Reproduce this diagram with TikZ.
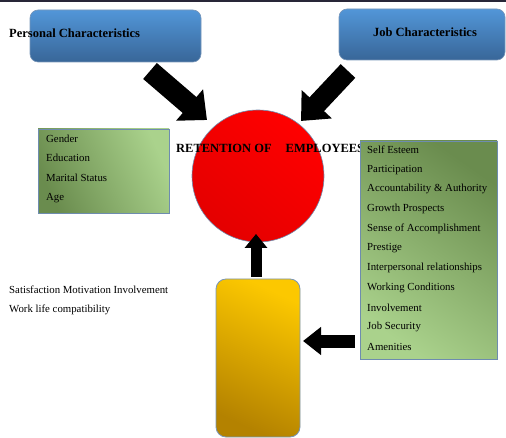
\documentclass[tikz,border=0pt]{standalone}
\usepackage{fontspec}
\setmainfont{Liberation Serif}
\usetikzlibrary{arrows.meta}

\definecolor{barnavy}{RGB}{40,38,56}
\definecolor{bluetop}{RGB}{82,150,216}
\definecolor{bluebot}{RGB}{56,102,152}
\definecolor{blueedge}{RGB}{120,150,185}
\definecolor{greenlight}{RGB}{170,210,140}
\definecolor{greendark}{RGB}{106,140,78}
\definecolor{greenedge}{RGB}{110,140,175}
\definecolor{redlight}{RGB}{255,0,0}
\definecolor{reddark}{RGB}{228,0,0}
\definecolor{yellowlight}{RGB}{252,200,0}
\definecolor{yellowdark}{RGB}{180,130,0}

\tikzset{
  headbox/.style={draw=blueedge, line width=0.6pt, rounded corners=8pt,
    top color=bluetop, bottom color=bluebot, inner sep=0pt},
  greenbox/.style={draw=greenedge, line width=0.8pt, inner sep=0pt},
  item/.style={anchor=west, font=\fontsize{10.8}{13}\selectfont, inner sep=0pt},
  title/.style={font=\fontsize{12.5}{15}\selectfont\bfseries, inner sep=0pt},
  blockarrow/.style={line width=#1, black, line cap=butt},
  bighead/.style={-{Triangle[width=40pt,length=23pt]}},
  smallhead/.style={-{Triangle[width=22pt,length=14pt]}},
  midhead/.style={-{Triangle[width=27pt,length=18pt]}},
}

\begin{document}
\begin{tikzpicture}[x=1pt,y=-1pt]
  \useasboundingbox (0,0) rectangle (506,438);
  \fill[barnavy] (0,0) rectangle (506,2);

  % header boxes
  \node[headbox, minimum width=171pt, minimum height=52pt] (pers) at (115.5,36) {};
  \node[title, anchor=west] (perstext) at (9,33) {Personal Characteristics};
  \node[headbox, minimum width=166pt, minimum height=51pt] (job) at (422,34.5) {};
  \node[title] (jobtext) at (425,32) {Job Characteristics};

  % central circle
  \node[circle, draw=greenedge, line width=0.6pt, minimum size=132pt, inner sep=0pt,
        top color=redlight, bottom color=reddark, shading angle=-40] (ret) at (258,176) {};
  \node[title, anchor=west] (rettext) at (176,148) {RETENTION OF\hspace{14pt}EMPLOYEES};

  % personal factors
  \node[greenbox, minimum width=131pt, minimum height=84pt,
        top color=greenlight, bottom color=greendark, shading angle=-65] (persbox) at (103.5,171) {};
  \node[item] (gender) at (46,139) {Gender};
  \node[item] (edu) at (46,158) {Education};
  \node[item] (marital) at (46,178) {Marital Status};
  \node[item] (age) at (46,198) {Age};

  % job factors
  \node[greenbox, minimum width=137pt, minimum height=218pt,
        top color=greendark, bottom color=greenlight, shading angle=-35] (jobbox) at (428.5,250) {};
  \foreach \t [count=\i from 0] in {Self Esteem, Participation,
      Accountability \& Authority, Growth Prospects, Sense of Accomplishment,
      Prestige, Interpersonal relationships, Working Conditions, Involvement,
      Job Security, Amenities}
    \node[item] (jf\i) at (367,{150+19.7*\i}) {\t};

  % outcome box
  \node[draw=blueedge, line width=0.8pt, rounded corners=10pt, inner sep=0pt,
        minimum width=84pt, minimum height=158pt,
        top color=yellowlight, bottom color=yellowdark, shading angle=-25] (out) at (258,358) {};

  % outcome labels
  \node[item] (sat) at (9,290) {Satisfaction Motivation Involvement};
  \node[item] (wlc) at (9,310) {Work life compatibility};

  % arrow end points
  \coordinate (pa0) at (150,71);
  \coordinate (pa1) at (207,120);
  \coordinate (ja0) at (348,71);
  \coordinate (ja1) at (301,121);
  \coordinate (ua0) at (256,277);
  \coordinate (ua1) at (256,234);
  \coordinate (la0) at (355,341);
  \coordinate (la1) at (303,341);

  \draw[blockarrow=21pt, bighead] (pa0) -- (pa1);
  \draw[blockarrow=20pt, bighead] (ja0) -- (ja1);
  \draw[blockarrow=11pt, smallhead] (ua0) -- (ua1);
  \draw[blockarrow=13pt, midhead] (la0) -- (la1);
\end{tikzpicture}
\end{document}
